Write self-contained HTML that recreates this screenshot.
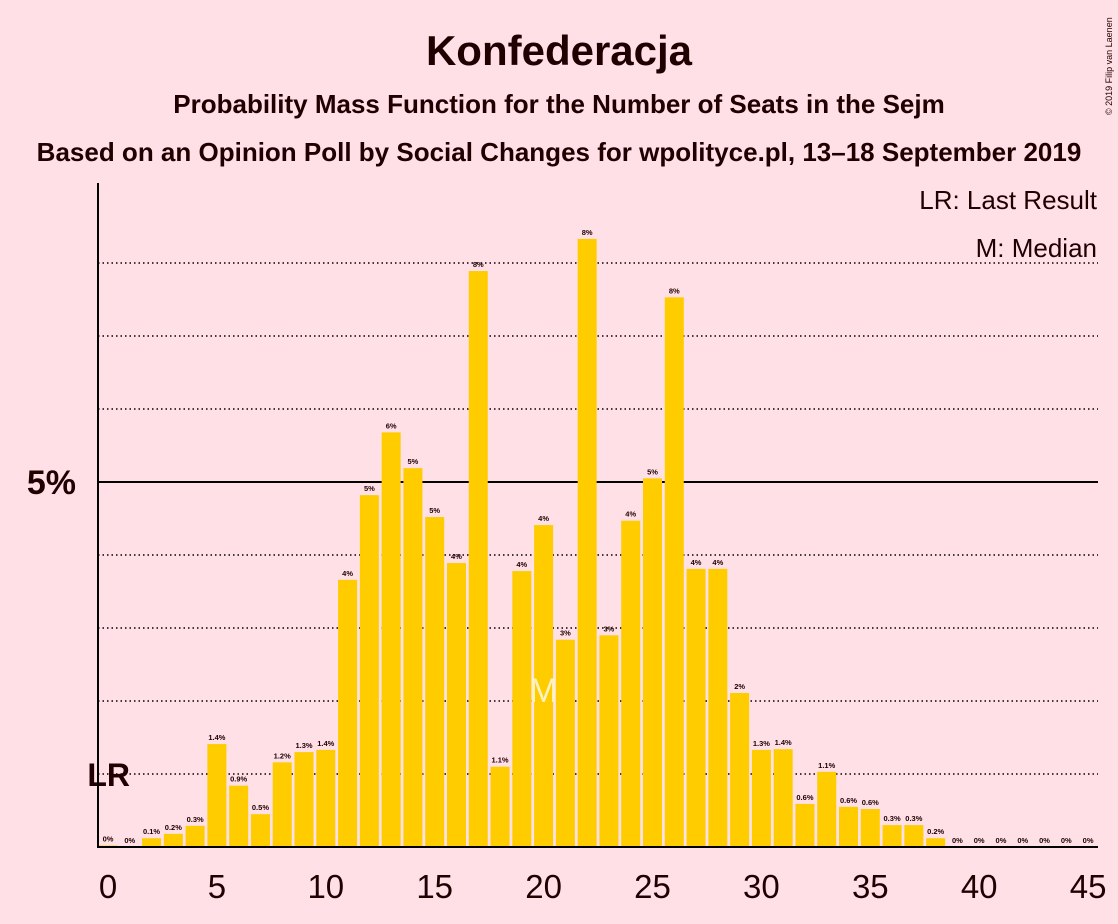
<!DOCTYPE html>
<html><head><meta charset="utf-8"><style>
body{margin:0;background:#ffe0e6;}
svg{display:block;font-family:"Liberation Sans",sans-serif;}
</style></head><body>
<svg id="c" width="1118" height="924" viewBox="0 0 1118 924">
<rect width="1118" height="924" fill="#ffe0e6"/>
<text x="559" y="65" text-anchor="middle" font-size="42" font-weight="bold" fill="#200000">Konfederacja</text>
<text x="559" y="113" text-anchor="middle" font-size="26" font-weight="bold" fill="#200000">Probability Mass Function for the Number of Seats in the Sejm</text>
<text x="559" y="161" text-anchor="middle" font-size="26" font-weight="bold" fill="#200000">Based on an Opinion Poll by Social Changes for wpolityce.pl, 13–18 September 2019</text>
<text x="1112" y="115" font-size="9" fill="#200000" transform="rotate(-90 1112 115)">© 2019 Filip van Laenen</text>
<g id="grid"></g>
<g id="bars"></g>
<g id="axes"></g>
<text x="1097" y="209" text-anchor="end" font-size="26" fill="#200000">LR: Last Result</text>
<text x="1097" y="257" text-anchor="end" font-size="26" fill="#200000">M: Median</text>
</svg>
<script>
const seats=[0,1,2,3,4,5,6,7,8,9,10,11,12,13,14,15,16,17,18,19,20,21,22,23,24,25,26,27,28,29,30,31,32,33,34,35,36,37,38,39,40,41,42,43,44,45];
const probs=[0.02,0,0.12,0.18,0.29,1.41,0.84,0.45,1.16,1.3,1.33,3.66,4.82,5.68,5.19,4.52,3.89,7.89,1.1,3.78,4.41,2.84,8.33,2.9,4.47,5.05,7.53,3.81,3.81,2.11,1.33,1.34,0.59,1.03,0.55,0.52,0.3,0.3,0.12,0,0,0,0,0,0,0];
const labels=["0%","0%","0.1%","0.2%","0.3%","1.4%","0.9%","0.5%","1.2%","1.3%","1.4%","4%","5%","6%","5%","5%","4%","8%","1.1%","4%","4%","3%","8%","3%","4%","5%","8%","4%","4%","2%","1.3%","1.4%","0.6%","1.1%","0.6%","0.6%","0.3%","0.3%","0.2%","0%","0%","0%","0%","0%","0%","0%"];
const xTicks=[0,5,10,15,20,25,30,35,40,45];
const gridVals=[1,2,3,4,5,6,7,8];
const lastResult=0, median=20;
const NS="http://www.w3.org/2000/svg";
const X=s=>108+s*21.78, Y=p=>847-p*73;
function mk(t,a,p){const e=document.createElementNS(NS,t);for(const k in a)e.setAttribute(k,a[k]);p.appendChild(e);return e;}
const grid=document.getElementById('grid'),bars=document.getElementById('bars'),axes=document.getElementById('axes');
gridVals.forEach(v=>{
 const l=mk('line',{x1:98,x2:1098,y1:Y(v),y2:Y(v),stroke:'#000','stroke-width':v===5?2:1.5,'stroke-dasharray':v===5?'':'1.5 3'},grid);
 
 
});
const t5=mk('text',{x:76,y:Y(5)+12,'text-anchor':'end','font-size':34,'font-weight':'bold',fill:'#200000'},axes);t5.textContent='5%';


seats.forEach((s,i)=>{
 const p=probs[i];
 if(p>0){const r=mk('rect',{x:X(s)-9.5,y:Y(p),width:19,height:847-Y(p),fill:'#ffcc00'},bars);
 
 }
 const t=mk('text',{x:X(s),y:Y(p)-4,'text-anchor':'middle','font-size':7.5,'font-weight':'bold',fill:'#200000'},bars);t.textContent=labels[i];
 
 
});
const m=mk('text',{x:X(median),y:702,'text-anchor':'middle','font-size':34,fill:'#fff2c0'},bars);m.textContent='M';


const lr=mk('text',{x:X(lastResult)+22,y:786,'text-anchor':'end','font-size':32,'font-weight':'bold',fill:'#200000'},bars);lr.textContent='LR';


const ya=mk('line',{x1:98,x2:98,y1:183,y2:848,stroke:'#000','stroke-width':2},axes);


const xa=mk('line',{x1:98,x2:1098,y1:847,y2:847,stroke:'#000','stroke-width':2},axes);


xTicks.forEach(v=>{
 const t=mk('text',{x:X(v),y:898,'text-anchor':'middle','font-size':33,fill:'#200000'},axes);t.textContent=v;
 
 
});
</script>
</body></html>
